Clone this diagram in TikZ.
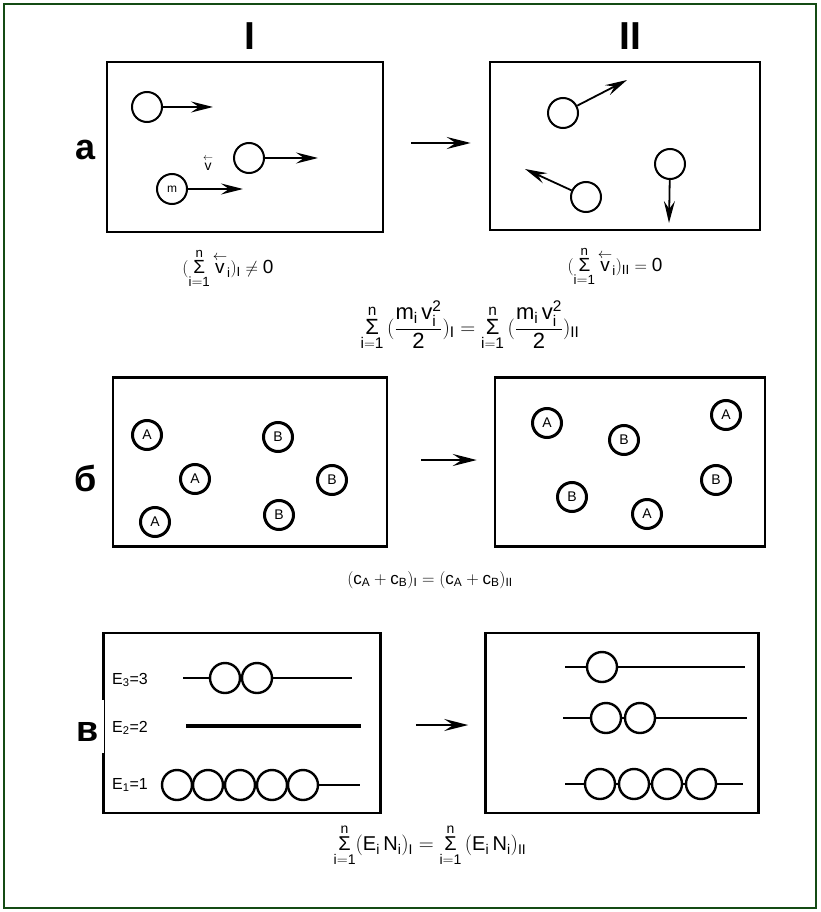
\documentclass[tikz,border=0pt]{standalone}
\usepackage{amsmath}
\usepackage{fontspec}
\setmainfont{Liberation Sans}
\usetikzlibrary{positioning, arrows.meta}
\definecolor{framegreen}{RGB}{20,75,20}
\newcommand{\tx}[1]{\mathrm{#1}}
\newcommand{\sumop}{\mathop{\hbox{Σ}}\limits}
\newcommand{\vecv}{\overset{\leftarrow}{\tx{v}}}

\begin{document}
\begin{tikzpicture}[x=1pt, y=-1pt,
  box/.style={draw, line width=2.5pt, inner sep=0pt},
  ball/.style={circle, draw, line width=2pt, minimum size=30pt, inner sep=0pt, fill=white},
  molec/.style={circle, draw, line width=3pt, minimum size=29pt, inner sep=0pt, font=\fontsize{14}{14}\selectfont},
  bead/.style={circle, draw, line width=2.4pt, minimum size=30pt, inner sep=0pt, fill=white},
  vel/.style={-{Stealth[length=22pt, width=11pt, inset=8pt]}, line width=1.8pt},
  trans/.style={-{Stealth[length=24pt, width=12pt, inset=9pt]}, line width=2.2pt},
  level/.style={line width=2.2pt},
  hdr/.style={font=\bfseries\fontsize{39}{39}\selectfont},
  rowlbl/.style={font=\bfseries\fontsize{36}{36}\selectfont},
  formula/.style={inner sep=0pt},
  elbl/.style={font=\fontsize{16}{16}\selectfont, inner sep=0pt, anchor=west}]
  \useasboundingbox (0,0) rectangle (821,912);
  \draw[framegreen, line width=2.5pt] (4,4) rectangle (816,908);

  % column headers
  \node[hdr] (colI) at (250,36) {I};
  \node[hdr] (colII) at (630,36) {II};

  % boxes
  \node[box, minimum width=276pt, minimum height=170pt] (aI) at (245,147) {};
  \node[box, minimum width=270pt, minimum height=168pt] (aII) at (625,146) {};
  \node[box, minimum width=274pt, minimum height=169pt] (bI) at (250,462) {};
  \node[box, minimum width=270pt, minimum height=169pt] (bII) at (630,462) {};
  \node[box, minimum width=277pt, minimum height=180pt] (vI) at (242,723) {};
  \node[box, minimum width=273pt, minimum height=180pt] (vII) at (622,723) {};
  \draw[white, line width=4pt] ([yshift=23pt]vI.west) -- ([yshift=-30pt]vI.west);

  % row labels
  \node[rowlbl] (la) at (86,150) {а};
  \node[rowlbl] (lb) at (86,478) {б};
  \node[rowlbl] (lv) at (88,732) {в};

  % transitions
  \draw[trans, shorten <=27pt, shorten >=18pt] ([yshift=4pt]aI.east) -- ([yshift=3pt]aII.west);
  \draw[trans, shorten <=33pt, shorten >=17pt] ([yshift=2pt]bI.east) -- ([yshift=2pt]bII.west);
  \draw[trans, shorten <=34pt, shorten >=16pt] ([yshift=-2pt]vI.east) -- ([yshift=-2pt]vII.west);

  % a: moving molecules, state I
  \node[ball] (p1) at (147,107) {};
  \node[ball] (p2) at (249,158) {};
  \node[ball, font=\fontsize{12}{12}\selectfont] (pm) at (172,189) {m};
  \coordinate (p1t) at (213,107);
  \coordinate (p2t) at (318,158);
  \coordinate (pmt) at (243,189);
  \draw[vel] (p1) -- (p1t);
  \draw[vel] (p2) -- (p2t);
  \draw[vel] (pm) -- (pmt);
  \node[font=\fontsize{14}{14}\selectfont] (vlbl) at (208,163) {$\vecv$};

  % a: state II
  \node[ball] (q1) at (563,113) {};
  \node[ball] (q2) at (586,197) {};
  \node[ball] (q3) at (670,164) {};
  \coordinate (q1t) at (627,80);
  \coordinate (q2t) at (525,169);
  \coordinate (q3t) at (669,223);
  \draw[vel] (q1) -- (q1t);
  \draw[vel] (q2) -- (q2t);
  \draw[vel] (q3) -- (q3t);

  \node[formula, font=\fontsize{19}{21}\selectfont] (fa1) at (228,268)
    {$(\sumop_{\tx{i=1}}^{\tx{n}}\vecv_{\tx{i}})_{\tx{I}}\neq \tx{0}$};
  \node[formula, font=\fontsize{19}{21}\selectfont] (fa2) at (615,266)
    {$(\sumop_{\tx{i=1}}^{\tx{n}}\vecv_{\tx{i}})_{\tx{II}}=\tx{0}$};
  \node[formula, font=\fontsize{22}{24}\selectfont] (fam) at (470,326)
    {$\sumop_{\tx{i=1}}^{\tx{n}}\,(\dfrac{\tx{m_i\,v_i^2}}{\tx{2}})_{\tx{I}}
      = \sumop_{\tx{i=1}}^{\tx{n}}\,(\dfrac{\tx{m_i\,v_i^2}}{\tx{2}})_{\tx{II}}$};

  % b: mixture A, B
  \node[molec] (a1) at (147,435) {A};
  \node[molec] (a2) at (195,479) {A};
  \node[molec] (a3) at (155,522) {A};
  \node[molec] (b1) at (278,437) {B};
  \node[molec] (b2) at (332,480) {B};
  \node[molec] (b3) at (279,515) {B};
  \node[molec] (a4) at (547,423) {A};
  \node[molec] (b4) at (624,440) {B};
  \node[molec] (a5) at (726,415) {A};
  \node[molec] (b5) at (572,497) {B};
  \node[molec] (a6) at (647,514) {A};
  \node[molec] (b6) at (716,480) {B};
  \node[formula, font=\fontsize{17}{19}\selectfont] (fb) at (430,580)
    {$(\tx{c}_{\tx{A}}+\tx{c}_{\tx{B}})_{\tx{I}}=(\tx{c}_{\tx{A}}+\tx{c}_{\tx{B}})_{\tx{II}}$};

  % v: energy levels, state I
  \node[elbl] (e3) at (112,680) {E$_{\tx{3}}$=3};
  \node[elbl] (e2) at (112,728) {E$_{\tx{2}}$=2};
  \node[elbl] (e1) at (112,785) {E$_{\tx{1}}$=1};
  \coordinate (e3s) at (183,678);
  \coordinate (e3e) at (352,678);
  \coordinate (e2s) at (186,726);
  \coordinate (e2e) at (361,726);
  \coordinate (e1e) at (360,785);
  \draw[level] (e3s) -- (e3e);
  \draw[line width=3.4pt] (e2s) -- (e2e);
  \foreach \x [count=\k] in {225,257}
    \node[bead] (e3b\k) at (\x,678) {};
  \foreach \x [count=\k] in {177,208,240,272,303}
    \node[bead] (e1b\k) at (\x,785) {};
  \draw[level] (e1b5) -- (e1e);

  % v: state II
  \coordinate (r3s) at (565,667);
  \coordinate (r3e) at (745,667);
  \coordinate (r2s) at (563,718);
  \coordinate (r2e) at (747,718);
  \coordinate (r1s) at (565,784);
  \coordinate (r1e) at (743,784);
  \draw[level] (r3s) -- (r3e);
  \draw[level] (r2s) -- (r2e);
  \draw[level] (r1s) -- (r1e);
  \node[bead] (r3b1) at (602,667) {};
  \foreach \x [count=\k] in {606,640}
    \node[bead] (r2b\k) at (\x,718) {};
  \foreach \x [count=\k] in {600,634,667,701}
    \node[bead] (r1b\k) at (\x,784) {};

  \node[formula, font=\fontsize{20}{22}\selectfont] (fv) at (430,845)
    {$\sumop_{\tx{i=1}}^{\tx{n}}(\tx{E_i\,N_i})_{\tx{I}}
      = \sumop_{\tx{i=1}}^{\tx{n}}\,(\tx{E_i\,N_i})_{\tx{II}}$};
\end{tikzpicture}
\end{document}
